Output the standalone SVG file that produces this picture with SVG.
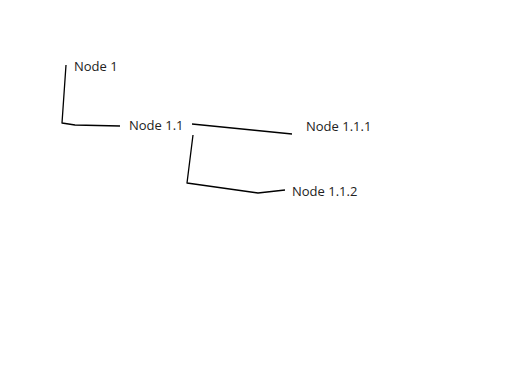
<svg xmlns="http://www.w3.org/2000/svg" width="508" height="365" viewBox="0 0 508 365">
<style>
.t{font-family:"Open Sans","Noto Sans","DejaVu Sans",sans-serif;font-size:13px;fill:#222}
.c{fill:none;stroke:#000;stroke-width:1.3;stroke-linejoin:round}
</style>
<rect width="508" height="365" fill="#fff"/>
<g id="connectors">
<path class="c" d="M66,65 L62,123 L75,125 L120,126"/>
<path class="c" d="M192,124 L292,134"/>
<path class="c" d="M193,135 L187,183 L258,193 L285,190"/>
</g>
<g id="node1"><text class="t" x="74" y="71">Node 1</text></g>
<g id="node1_1"><text class="t" x="129" y="130">Node 1.1</text></g>
<g id="node1_1_1"><text class="t" x="306" y="131">Node 1.1.1</text></g>
<g id="node1_1_2"><text class="t" x="292" y="196">Node 1.1.2</text></g>
</svg>
